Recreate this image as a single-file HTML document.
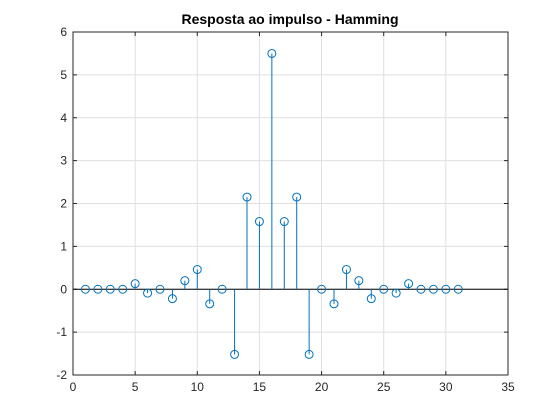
<!DOCTYPE html>
<html><head><meta charset="utf-8"><style>
body{margin:0;background:#fff;}
svg{display:block;font-family:"Liberation Sans",Arial,sans-serif;}
</style></head><body>
<svg id="chart" width="560" height="420" viewBox="0 0 560 420">
<rect x="0" y="0" width="560" height="420" fill="#ffffff"/>
<g id="grid"></g><g id="ticks"></g><g id="marks"></g>
<rect x="73" y="32" width="435" height="343" fill="none" stroke="#262626" stroke-width="1"/>
<text x="290" y="24" text-anchor="middle" font-size="14" font-weight="bold" fill="#000">Resposta ao impulso - Hamming</text>
</svg>
<script>
const xTicks=[0,5,10,15,20,25,30,35];
const yTicks=[-2,-1,0,1,2,3,4,5,6];
const nValues=[1,2,3,4,5,6,7,8,9,10,11,12,13,14,15,16,17,18,19,20,21,22,23,24,25,26,27,28,29,30,31];
const hValues=[0,0,0,0,0.13,-0.09,0,-0.22,0.2,0.46,-0.34,0,-1.52,2.15,1.58,5.5,1.58,2.15,-1.52,0,-0.34,0.46,0.2,-0.22,0,-0.09,0.13,0,0,0,0];
const L=73,R=508,T=32,B=375;
const xs=v=>L+(v-0)/(35-0)*(R-L);
const ys=v=>B-(v+2)/(6+2)*(B-T);
const NS="http://www.w3.org/2000/svg";
function mk(tag,attrs,parent){const e=document.createElementNS(NS,tag);for(const k in attrs)e.setAttribute(k,attrs[k]);parent.appendChild(e);return e;}
const grid=document.getElementById('grid'),ticks=document.getElementById('ticks'),marks=document.getElementById('marks');
xTicks.forEach(t=>{const x=xs(t);
 const g=mk('line',{x1:x,x2:x,y1:T,y2:B,stroke:'#dfdfdf','stroke-width':1},grid);
 
 
 mk('line',{x1:x,x2:x,y1:B,y2:B-4,stroke:'#262626'},ticks);
 mk('line',{x1:x,x2:x,y1:T,y2:T+4,stroke:'#262626'},ticks);
 const tx=mk('text',{x:x,y:B+16,'text-anchor':'middle','font-size':12,fill:'#262626'},ticks);tx.textContent=t;
 
 
});
yTicks.forEach(t=>{const y=ys(t);
 const g=mk('line',{x1:L,x2:R,y1:y,y2:y,stroke:'#dfdfdf','stroke-width':1},grid);
 
 
 mk('line',{x1:L,x2:L+4,y1:y,y2:y,stroke:'#262626'},ticks);
 mk('line',{x1:R,x2:R-4,y1:y,y2:y,stroke:'#262626'},ticks);
 const tx=mk('text',{x:L-6,y:y+4,'text-anchor':'end','font-size':12,fill:'#262626'},ticks);tx.textContent=t;
 
 
});
const base=mk('line',{x1:L,x2:R,y1:ys(0),y2:ys(0),stroke:'#000','stroke-width':1},marks);


nValues.forEach((n,i)=>{const x=xs(n),y=ys(hValues[i]);
 const s=mk('line',{x1:x,x2:x,y1:ys(0),y2:y,stroke:'#0072BD','stroke-width':1},marks);
 
 
 const c=mk('circle',{cx:x,cy:y,r:4,fill:'none',stroke:'#0072BD','stroke-width':1},marks);
 
 
});
</script>
</body></html>
